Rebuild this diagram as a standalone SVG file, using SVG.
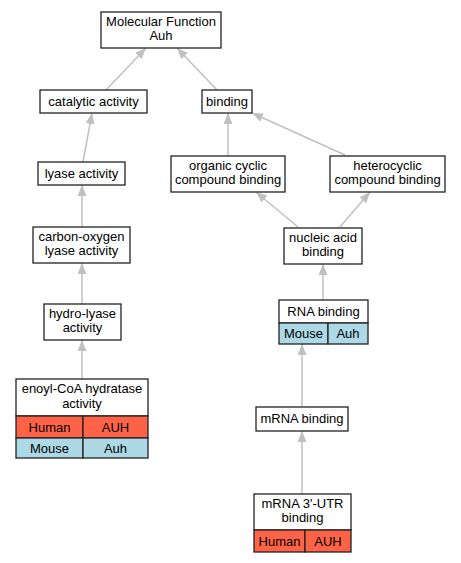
<svg xmlns="http://www.w3.org/2000/svg" width="461" height="563" viewBox="0 0 461 563">
<defs>
<style>
.box{fill:#fff;stroke:#222;stroke-width:1.3}
.hum{fill:#ff6347;stroke:#222;stroke-width:1.3}
.mou{fill:#add8e6;stroke:#222;stroke-width:1.3}
text{font-family:"Liberation Sans",Arial,sans-serif;font-size:13px;fill:#000;text-anchor:middle}
.edge{stroke:#c0c0c0;stroke-width:1.5;fill:none;marker-end:url(#ah)}
</style>
<marker id="ah" markerUnits="userSpaceOnUse" markerWidth="12" markerHeight="10" refX="11" refY="4.5" orient="auto">
<path d="M0,0 L11,4.5 L0,9 z" fill="#c0c0c0"/>
</marker>
</defs>
<rect width="461" height="563" fill="#fff"/>
<g id="edges">
<line class="edge" x1="106" y1="90" x2="146" y2="48"/>
<line class="edge" x1="217" y1="90" x2="177" y2="48"/>
<line class="edge" x1="83" y1="162" x2="92" y2="113"/>
<line class="edge" x1="82" y1="227" x2="82" y2="185"/>
<line class="edge" x1="82" y1="304" x2="82" y2="263"/>
<line class="edge" x1="82" y1="379" x2="82" y2="340"/>
<line class="edge" x1="228" y1="155" x2="228" y2="113"/>
<line class="edge" x1="345" y1="155" x2="252" y2="113"/>
<line class="edge" x1="298" y1="227" x2="256" y2="192"/>
<line class="edge" x1="340" y1="227" x2="370" y2="192"/>
<line class="edge" x1="323" y1="300" x2="323" y2="264"/>
<line class="edge" x1="302" y1="407" x2="302" y2="344"/>
<line class="edge" x1="302" y1="494" x2="302" y2="431"/>
</g>
<g id="mf">
<rect class="box" x="101" y="12" width="120" height="36"/>
<text x="161" y="25.8">Molecular Function</text>
<text x="161" y="40.3">Auh</text>
</g>
<g id="catalytic">
<rect class="box" x="40" y="90" width="107" height="23"/>
<text x="93.5" y="106">catalytic activity</text>
</g>
<g id="binding">
<rect class="box" x="202" y="90" width="50" height="23"/>
<text x="227" y="106">binding</text>
</g>
<g id="lyase">
<rect class="box" x="38" y="162" width="87" height="23"/>
<text x="81.5" y="178">lyase activity</text>
</g>
<g id="organic">
<rect class="box" x="171" y="156" width="114" height="36"/>
<text x="228" y="169.8">organic cyclic</text>
<text x="228" y="184.3">compound binding</text>
</g>
<g id="heterocyclic">
<rect class="box" x="330" y="156" width="115" height="36"/>
<text x="387.5" y="169.8">heterocyclic</text>
<text x="387.5" y="184.3">compound binding</text>
</g>
<g id="carbonoxygen">
<rect class="box" x="33" y="227" width="97" height="36"/>
<text x="81.5" y="240.8">carbon-oxygen</text>
<text x="81.5" y="255.3">lyase activity</text>
</g>
<g id="nucleic">
<rect class="box" x="284" y="228" width="78" height="36"/>
<text x="323" y="241.8">nucleic acid</text>
<text x="323" y="256.3">binding</text>
</g>
<g id="hydrolyase">
<rect class="box" x="44" y="304" width="77" height="36"/>
<text x="82.5" y="317.8">hydro-lyase</text>
<text x="82.5" y="332.3">activity</text>
</g>
<g id="rna">
<rect class="box" x="279" y="300" width="89" height="23"/>
<text x="323.5" y="316">RNA binding</text>
<rect class="mou" x="279" y="323" width="49" height="21"/>
<rect class="mou" x="328" y="323" width="40" height="21"/>
<text x="303.5" y="338">Mouse</text>
<text x="348" y="338">Auh</text>
</g>
<g id="enoyl">
<rect class="box" x="16" y="379" width="132" height="37"/>
<text x="82" y="393.3">enoyl-CoA hydratase</text>
<text x="82" y="407.8">activity</text>
<rect class="hum" x="16" y="416" width="67" height="22"/>
<rect class="hum" x="83" y="416" width="65" height="22"/>
<text x="49.5" y="431.5">Human</text>
<text x="115.5" y="431.5">AUH</text>
<rect class="mou" x="16" y="438" width="67" height="20"/>
<rect class="mou" x="83" y="438" width="65" height="20"/>
<text x="49.5" y="452.5">Mouse</text>
<text x="115.5" y="452.5">Auh</text>
</g>
<g id="mrna">
<rect class="box" x="256" y="407" width="92" height="24"/>
<text x="302" y="423">mRNA binding</text>
</g>
<g id="utr">
<rect class="box" x="254" y="494" width="97" height="36"/>
<text x="302.5" y="507.8">mRNA 3'-UTR</text>
<text x="302.5" y="522.3">binding</text>
<rect class="hum" x="254" y="530" width="51" height="22"/>
<rect class="hum" x="305" y="530" width="46" height="22"/>
<text x="279.5" y="545.5">Human</text>
<text x="328" y="545.5">AUH</text>
</g>
</svg>
